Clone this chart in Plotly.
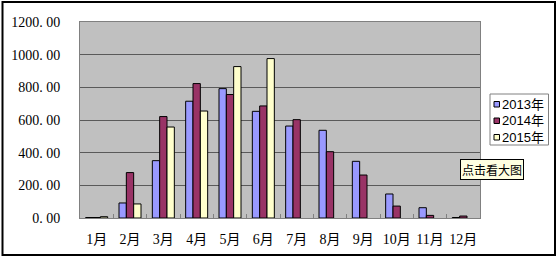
import plotly.graph_objects as go

months = ["1月", "2月", "3月", "4月", "5月", "6月", "7月", "8月", "9月", "10月", "11月", "12月"]
v2013 = [3, 92, 351, 715, 792, 653, 563, 537, 347, 147, 63, 3]
v2014 = [3, 278, 621, 823, 756, 686, 602, 406, 263, 73, 16, 12]
v2015 = [8, 86, 557, 655, 927, 976, None, None, None, None, None, None]
series_names = ["2013年", "2014年", "2015年"]
series_colors = ["#9999ff", "#993366", "#ffffcc"]
y_ticks = [0, 200, 400, 600, 800, 1000, 1200]
y_ticktext = [f"{v:.2f}".replace(".", ". ") for v in y_ticks]

W, H = 559, 261
L, R, T, B = 80, 480, 22, 218  # plot area in pixels


def px(x):
    return (x - L) / (R - L)


def py(y):
    return (B - y) / (B - T)


fig = go.Figure()
for name, vals, col in zip(series_names, [v2013, v2014, v2015], series_colors):
    fig.add_trace(go.Bar(x=months, y=vals, name=name, marker_color=col,
                         marker_line_color="#000000", marker_line_width=1,
                         showlegend=False))

shapes = []
annotations = []
# outer frame
shapes.append(dict(type="rect", xref="paper", yref="paper",
                   x0=px(2.5), x1=px(555), y0=py(255), y1=py(2),
                   line=dict(color="#000000", width=2), layer="below"))
# legend box
shapes.append(dict(type="rect", xref="paper", yref="paper",
                   x0=px(490), x1=px(548.5), y0=py(145), y1=py(94),
                   line=dict(color="#808080", width=1), fillcolor="#ffffff"))
row_y = [104, 120.5, 137]
for name, col, ry in zip(series_names, series_colors, row_y):
    shapes.append(dict(type="rect", xref="paper", yref="paper",
                       x0=px(494), x1=px(499.5), y0=py(ry + 3), y1=py(ry - 2.5),
                       line=dict(color="#000000", width=1), fillcolor=col))
    annotations.append(dict(text=name, xref="paper", yref="paper",
                            x=px(499.5), y=py(ry), xanchor="left", yanchor="middle",
                            showarrow=False,
                            font=dict(family="Liberation Sans, Noto Sans CJK SC", size=13, color="#000000")))
# tooltip
annotations.append(dict(text="点击看大图", xref="paper", yref="paper",
                        x=px(492), y=py(169), xanchor="center", yanchor="middle",
                        showarrow=False, bgcolor="#ffffe1", bordercolor="#000000",
                        borderwidth=1, borderpad=1,
                        font=dict(family="Noto Sans CJK SC", size=12, color="#000000")))

fig.update_layout(
    width=W, height=H,
    margin=dict(l=L, r=W - R, t=T, b=H - B, autoexpand=False),
    paper_bgcolor="#ffffff", plot_bgcolor="#c0c0c0",
    barmode="group", bargap=0.34, bargroupgap=0,
    shapes=shapes, annotations=annotations,
    showlegend=False,
    xaxis=dict(showline=True, linecolor="#808080", linewidth=1, mirror=True,
               ticks="inside", ticklen=4, tickcolor="#808080", tickson="boundaries",
               ticklabelstandoff=8, showgrid=False, tickangle=0, automargin=False,
               tickfont=dict(family="Liberation Serif, Noto Sans CJK SC", size=14, color="#000000")),
    yaxis=dict(range=[0, 1200], tickvals=y_ticks, ticktext=y_ticktext,
               showline=True, linecolor="#808080", linewidth=1, mirror=True,
               showgrid=True, gridcolor="#5a5a5a", gridwidth=1, zeroline=False,
               ticks="", ticklabelstandoff=16, automargin=False,
               tickfont=dict(family="Liberation Serif", size=14, color="#000000")),
)

fig.write_html("out.html")
